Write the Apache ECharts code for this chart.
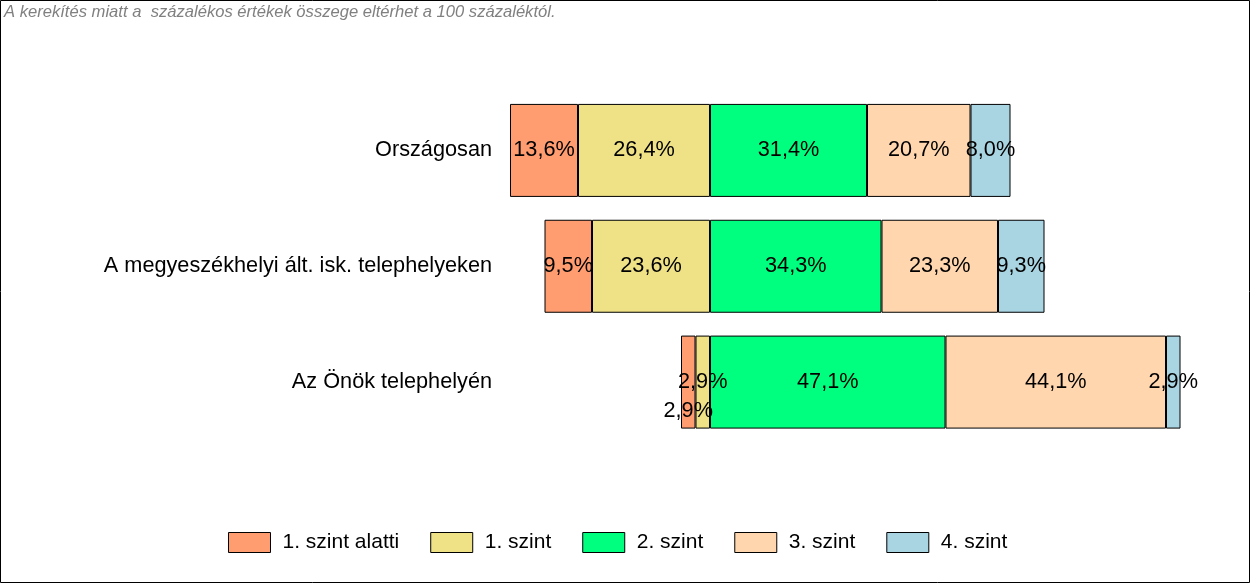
<!DOCTYPE html>
<html>
<head>
<meta charset="utf-8">
<script src="https://cdn.jsdelivr.net/npm/echarts@6/dist/echarts.min.js"></script>
<style>
  html, body { margin: 0; padding: 0; background: #fff; }
  #chart { width: 1250px; height: 583px; }
</style>
</head>
<body>
<div id="chart"></div>
<script>
"use strict";

// Rows, top to bottom
const categories = [
  "Országosan",
  "A megyeszékhelyi ált. isk. telephelyeken",
  "Az Önök telephelyén",
];

// Percentages per level
const belowLevel1 = [13.6, 9.5, 2.9];
const level1 = [26.4, 23.6, 2.9];
const level2 = [31.4, 34.3, 47.1];
const level3 = [20.7, 23.3, 44.1];
const level4 = [8.0, 9.3, 2.9];

const levelNames = ["1. szint alatti", "1. szint", "2. szint", "3. szint", "4. szint"];
const levelColors = ["#FF9C70", "#EEE186", "#00FF7F", "#FFD6AE", "#A9D4E2"];

const note = "A kerekítés miatt a  százalékos értékek összege eltérhet a 100 százaléktól.";

const FONT = "Liberation Sans, Arial, sans-serif";
const fmt = (v) => Math.abs(v).toFixed(1).replace(".", ",") + "%";

// Levels below 2. szint are drawn to the left of zero; negative stacking starts
// from the series listed first, so "1. szint" goes before "alatti".
// dropLabelRows: rows whose label is pushed down to avoid overlapping its neighbour.
function makeSeries(name, values, negative, dropLabelRows) {
  const idx = levelNames.indexOf(name);
  const s = {
    name: name,
    type: "bar",
    stack: "total",
    barWidth: 93,
    itemStyle: { color: levelColors[idx], borderColor: "#000", borderWidth: 1 },
    label: {
      show: true,
      position: "inside",
      color: "#000",
      fontSize: 21.7,
      fontFamily: FONT,
      formatter: (p) => fmt(p.value),
    },
    data: values.map((v) => (negative ? -v : v)),
  };
  s.labelLayout = (params) =>
    dropLabelRows && dropLabelRows.includes(params.dataIndex)
      ? { dy: 29, hideOverlap: false }
      : { hideOverlap: false };
  return s;
}

const chart = echarts.init(document.getElementById("chart"), null, { renderer: "canvas" });

chart.setOption({
  animation: false,
  backgroundColor: "#fff",
  graphic: [
    {
      type: "rect",
      shape: { x: 0.5, y: 0.5, width: 1249, height: 582 },
      style: { fill: "none", stroke: "#000", lineWidth: 1 },
      silent: true,
    },
    {
      type: "text",
      left: 4,
      top: 4,
      style: {
        text: note,
        fill: "#808080",
        font: "italic 16.6px 'Liberation Sans', Arial, sans-serif",
      },
    },
  ],
  legend: {
    data: levelNames,
    top: 527,
    left: 223,
    itemWidth: 42,
    itemHeight: 20,
    itemGap: 31,
    icon: "rect",
    itemStyle: { borderColor: "#000", borderWidth: 1 },
    textStyle: {
      color: "#000",
      fontSize: 21,
      fontFamily: FONT,
      padding: [0, 0, 0, 7],
    },
  },
  grid: { left: 500, right: 40, top: 92.5, bottom: 143, containLabel: false },
  xAxis: {
    type: "value",
    min: -42,
    max: 100,
    show: false,
  },
  yAxis: {
    type: "category",
    data: categories,
    inverse: true,
    axisLine: { show: false },
    axisTick: { show: false },
    axisLabel: {
      color: "#000",
      fontSize: 21.7,
      margin: 8,
      fontFamily: FONT,
    },
  },
  series: [
    makeSeries("1. szint", level1, true),
    makeSeries("1. szint alatti", belowLevel1, true, [2]),
    makeSeries("2. szint", level2, false),
    makeSeries("3. szint", level3, false),
    makeSeries("4. szint", level4, false),
  ],
});
</script>
</body>
</html>
